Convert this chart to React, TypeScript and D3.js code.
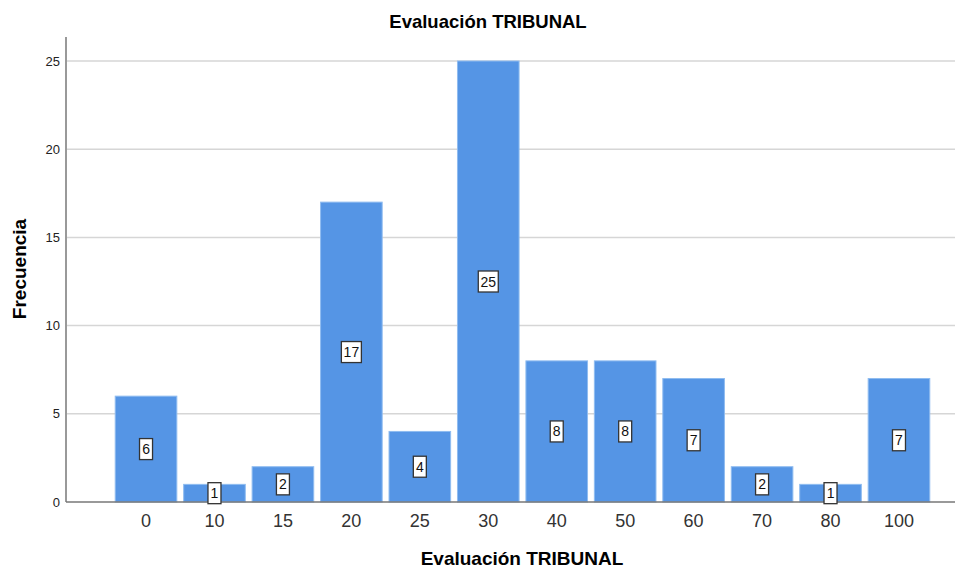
import React, {useEffect, useRef} from "react";
import * as d3 from "d3";

const categories = ["0", "10", "15", "20", "25", "30", "40", "50", "60", "70", "80", "100"];
const frequencies = [6, 1, 2, 17, 4, 25, 8, 8, 7, 2, 1, 7];
const yTicks = [0, 5, 10, 15, 20, 25];

const W = 967;
const H = 568;

const App = () => {
    const svgRef = useRef(null);

    useEffect(() => {
        const svg = d3.select(svgRef.current);
        svg.selectAll("*").remove();

        const left = 66, right = 955, top = 37, bottom = 502;

        const x = d3.scaleBand<string>()
            .domain(categories)
            .range([111.8, 933.2])
            .paddingInner(0.1)
            .paddingOuter(0.05);

        const y = d3.scaleLinear()
            .domain([0, 25])
            .range([bottom, 61]);

        // grid lines
        svg.append("g")
            .selectAll("line")
            .data(yTicks.filter(d => d > 0))
            .join("line")
            .attr("x1", left)
            .attr("x2", right)
            .attr("y1", d => y(d))
            .attr("y2", d => y(d))
            .attr("stroke", "#d6d6d6")
            .attr("stroke-width", 1.5);

        // bars
        svg.append("g")
            .selectAll("rect")
            .data(frequencies)
            .join("rect")
            .attr("x", (d, i) => x(categories[i])!)
            .attr("y", d => y(d))
            .attr("width", x.bandwidth())
            .attr("height", d => bottom - y(d))
            .attr("fill", "#5595e5")
            .attr("stroke", "#8fbcf0")
            .attr("stroke-width", 1);

        // axes lines
        svg.append("line")
            .attr("x1", left).attr("x2", left)
            .attr("y1", top).attr("y2", bottom)
            .attr("stroke", "#999").attr("stroke-width", 2);
        svg.append("line")
            .attr("x1", left).attr("x2", right)
            .attr("y1", bottom).attr("y2", bottom)
            .attr("stroke", "#777").attr("stroke-width", 1.5);

        // y tick labels
        svg.append("g")
            .selectAll("text")
            .data(yTicks)
            .join("text")
            .attr("x", left - 6)
            .attr("y", d => y(d))
            .attr("dy", "0.36em")
            .attr("text-anchor", "end")
            .attr("font-size", 13)
            .attr("fill", "#222")
            .text(d => d);

        // x tick labels
        svg.append("g")
            .selectAll("text")
            .data(categories)
            .join("text")
            .attr("x", d => x(d)! + x.bandwidth() / 2)
            .attr("y", 527)
            .attr("text-anchor", "middle")
            .attr("font-size", 18)
            .attr("fill", "#333")
            .text(d => d);

        // value labels
        const labels = svg.append("g")
            .selectAll("g")
            .data(frequencies)
            .join("g")
            .attr("transform", (d, i) => `translate(${x(categories[i])! + x.bandwidth() / 2},${y(d / 2)})`);
        labels.append("rect")
            .attr("x", d => d >= 10 ? -10 : -6.5)
            .attr("y", -10.5)
            .attr("width", d => d >= 10 ? 20 : 13)
            .attr("height", 21)
            .attr("fill", "#fff")
            .attr("stroke", "#333")
            .attr("stroke-width", 1.3);
        labels.append("text")
            .attr("text-anchor", "middle")
            .attr("dy", "0.36em")
            .attr("font-size", 14)
            .attr("fill", "#111")
            .text(d => d);

        // titles
        svg.append("text")
            .attr("x", 488).attr("y", 28)
            .attr("text-anchor", "middle")
            .attr("font-size", 18.5).attr("font-weight", "bold")
            .text("Evaluación TRIBUNAL");
        svg.append("text")
            .attr("x", 522).attr("y", 565)
            .attr("text-anchor", "middle")
            .attr("font-size", 19).attr("font-weight", "bold")
            .text("Evaluación TRIBUNAL");
        svg.append("text")
            .attr("transform", "translate(26,269) rotate(-90)")
            .attr("text-anchor", "middle")
            .attr("font-size", 19).attr("font-weight", "bold")
            .text("Frecuencia");
    }, []);

    return (
        <div style={{position: "fixed", left: 0, top: 0}}>
            <svg ref={svgRef} width={W} height={H}
                 style={{display: "block", background: "#fff", fontFamily: "'Liberation Sans', Arial, sans-serif"}}/>
        </div>
    );
};

export default App;
